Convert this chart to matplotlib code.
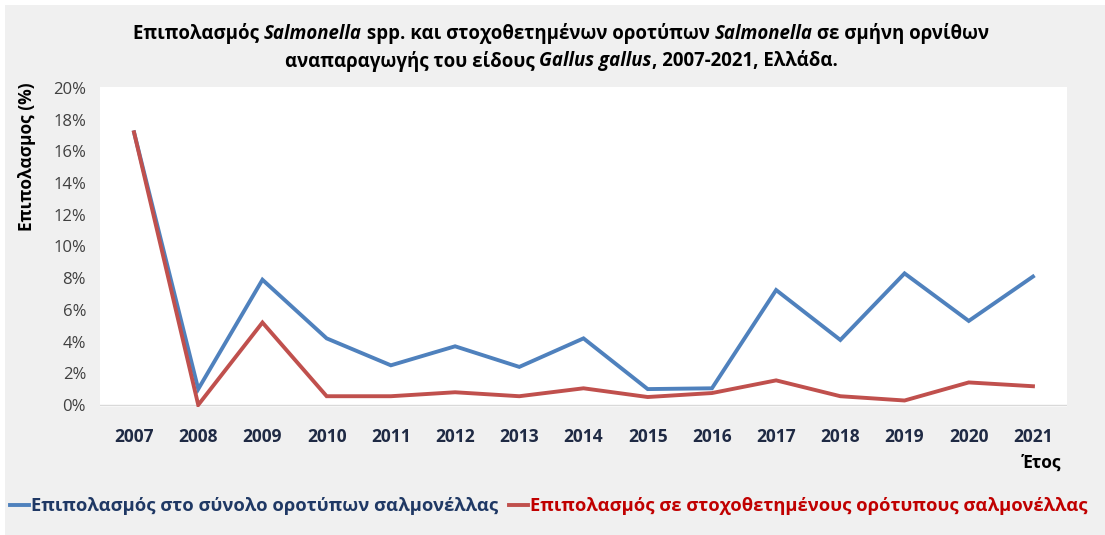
import matplotlib
matplotlib.use("Agg")
import matplotlib.pyplot as plt
from matplotlib.patches import Rectangle
from matplotlib.lines import Line2D

# data (% prevalence)
years = ["2007", "2008", "2009", "2010", "2011", "2012", "2013", "2014",
         "2015", "2016", "2017", "2018", "2019", "2020", "2021"]
total_serovars = [17.2, 1.0, 7.9, 4.2, 2.5, 3.7, 2.4, 4.2,
                  1.0, 1.05, 7.25, 4.1, 8.3, 5.3, 8.1]
target_serovars = [17.2, 0.0, 5.2, 0.55, 0.55, 0.8, 0.55, 1.05,
                   0.5, 0.75, 1.55, 0.55, 0.28, 1.42, 1.18]
y_ticks = [0, 2, 4, 6, 8, 10, 12, 14, 16, 18, 20]

label_total = "Επιπολασμός στο σύνολο οροτύπων σαλμονέλλας"
label_target = "Επιπολασμός σε στοχοθετημένους ορότυπους σαλμονέλλας"
title_lines = [
    [("Επιπολασμός ", "normal"), ("Salmonella", "italic"),
     (" spp. και στοχοθετημένων οροτύπων ", "normal"),
     ("Salmonella", "italic"), (" σε σμήνη ορνίθων", "normal")],
    [("αναπαραγωγής του είδους ", "normal"), ("Gallus gallus", "italic"),
     (", 2007-2021, Ελλάδα.", "normal")],
]

BLUE = "#4f81bd"
RED = "#c0504d"
BG = "#f0f0f0"
FONT = ["Open Sans", "DejaVu Sans"]

plt.rcParams["font.family"] = FONT

W, H = 1105, 535
fig = plt.figure(figsize=(W / 100, H / 100), dpi=100, facecolor="white")
fig.patches.append(Rectangle((5 / W, 0), 1, 1 - 5 / H, transform=fig.transFigure,
                             facecolor=BG, edgecolor="none", zorder=-10))


def px(x, y):
    """pixel coords (from top-left) -> figure fraction"""
    return x / W, 1 - y / H


left, top = px(100, 87)
right, bottom = px(1067, 407)
ax = fig.add_axes([left, bottom, right - left, top - bottom])
ax.set_facecolor("white")

x = list(range(len(years)))
ax.plot(x, total_serovars, color=BLUE, lw=2.8, solid_joinstyle="miter", label=label_total)
ax.plot(x, target_serovars, color=RED, lw=2.8, solid_joinstyle="miter", label=label_target)
ax.axhline(0, color="#d9d9d9", lw=1, zorder=0)

ax.set_xlim(-0.53, len(years) - 1 + 0.53)
ax.set_ylim(-0.13, 20.06)
ax.set_yticks(y_ticks)
ax.set_yticklabels([f"{v}%" for v in y_ticks], fontsize=12, color="#404040")
ax.set_xticks(x)
ax.set_xticklabels(years, fontsize=12.5, fontweight="bold", color="#1f2a44")
ax.tick_params(axis="both", length=0)
ax.tick_params(axis="y", pad=10)
ax.tick_params(axis="x", pad=15)
for s in ax.spines.values():
    s.set_visible(False)

# axis titles
fig.text(*px(27, 157), "Επιπολασμος (%)", rotation=90, ha="center", va="center",
         fontsize=12.5, fontweight="bold", color="black")
fig.text(*px(1061, 463), "Έτος", ha="right", va="center",
         fontsize=12.5, fontweight="bold", color="black")

# title with italic pieces, each line centered
fig.canvas.draw()
renderer = fig.canvas.get_renderer()
for line, yy in zip(title_lines, [34, 61]):
    pieces = []
    total_w = 0
    for txt, style in line:
        t = fig.text(0, 0, txt, fontsize=13.4, fontweight="bold", style=style,
                     ha="left", va="center")
        w = t.get_window_extent(renderer).width
        pieces.append((t, w))
        total_w += w
    x0 = 561 - total_w / 2
    for t, w in pieces:
        t.set_position(px(x0, yy))
        x0 += w

# legend
handles = [Line2D([], [], color=BLUE, lw=2.8), Line2D([], [], color=RED, lw=2.8)]
leg = fig.legend(handles, [label_total, label_target], loc="center left",
                 bbox_to_anchor=px(10, 506), ncol=2, frameon=False,
                 prop={"size": 13.2, "weight": "bold"}, handlelength=1.05,
                 handletextpad=0.12, columnspacing=0.55, borderaxespad=0,
                 borderpad=0)
for txt, c in zip(leg.get_texts(), ["#1f3864", "#c00000"]):
    txt.set_color(c)

fig.savefig("out.png", dpi=100, facecolor=fig.get_facecolor())
